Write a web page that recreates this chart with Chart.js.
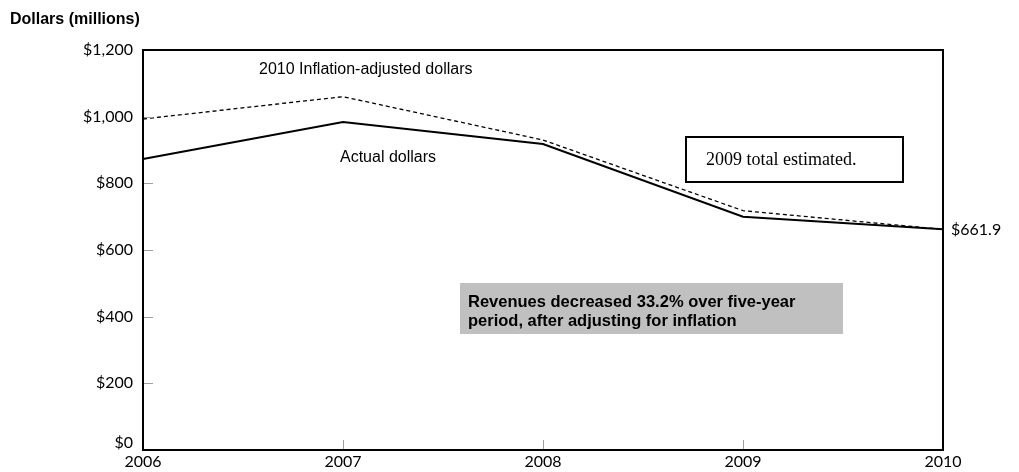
<!DOCTYPE html>
<html>
<head>
<meta charset="utf-8">
<script src="https://cdn.jsdelivr.net/npm/chart.js@4/dist/chart.umd.min.js"></script>
<style>
  html, body { margin: 0; padding: 0; background: #fff; }
  #contenedor { position: relative; width: 1019px; height: 472px; }
</style>
</head>
<body>
<div id="contenedor"><canvas id="grafica"></canvas></div>
<script>
// datos
const anios = ['2006', '2007', '2008', '2009', '2010'];
const dolaresActuales = [873, 984, 918, 700, 661.9];
const dolaresAjustados = [993, 1060, 930, 718, 661.9];
const ticksY = [0, 200, 400, 600, 800, 1000, 1200];

const fuenteNarrow = '"Liberation Sans Narrow", "Arial Narrow", Arial, sans-serif';
const fuenteTicks = 'Lato, "Open Sans", sans-serif';

function formatearDolares(valor) {
    return '$' + valor.toLocaleString('en-US');
}

// marco, marcas interiores y textos
const anotaciones = {
    id: 'anotaciones',
    afterDraw(chart) {
        const ctx = chart.ctx;
        const area = chart.chartArea;
        const x = chart.scales.x;
        const y = chart.scales.y;

        ctx.save();

        // marcas interiores grises
        ctx.strokeStyle = '#a0a0a0';
        ctx.lineWidth = 1;
        ticksY.slice(1, -1).forEach(v => {
            const py = Math.round(y.getPixelForValue(v)) + 0.5;
            ctx.beginPath();
            ctx.moveTo(area.left, py);
            ctx.lineTo(area.left + 10, py);
            ctx.stroke();
        });
        anios.slice(1, -1).forEach((a, i) => {
            const px = Math.round(x.getPixelForValue(i + 1)) + 0.5;
            ctx.beginPath();
            ctx.moveTo(px, area.bottom);
            ctx.lineTo(px, area.bottom - 10);
            ctx.stroke();
        });

        // marco
        ctx.strokeStyle = '#000';
        ctx.lineWidth = 2;
        ctx.strokeRect(area.left, area.top, area.right - area.left, area.bottom - area.top);

        // etiqueta $0 un poco arriba para no chocar con 2006
        ctx.fillStyle = '#000';
        ctx.font = '16px ' + fuenteTicks;
        ctx.textAlign = 'right';
        ctx.textBaseline = 'middle';
        ctx.fillText(formatearDolares(0), area.left - 10, y.getPixelForValue(0) - 7);

        // titulo del eje
        ctx.textAlign = 'left';
        ctx.font = 'bold 16px ' + fuenteNarrow;
        ctx.fillText('Dollars (millions)', 10, 20);

        // etiquetas de las series
        ctx.font = '16px ' + fuenteNarrow;
        ctx.fillText('2010 Inflation-adjusted dollars', 259, 70);
        ctx.fillText('Actual dollars', 340, 158);

        // valor final
        ctx.font = '16px ' + fuenteTicks;
        ctx.fillText('$661.9', area.right + 8, y.getPixelForValue(661.9));

        // nota 2009
        ctx.lineWidth = 2;
        ctx.strokeRect(686, 137, 217, 45);
        ctx.font = '18px "Liberation Serif", "Times New Roman", serif';
        ctx.fillText('2009 total estimated.', 706, 160);

        // recuadro gris
        ctx.fillStyle = '#c0c0c0';
        ctx.fillRect(460, 283, 383, 51);
        ctx.fillStyle = '#000';
        ctx.font = 'bold 16.5px ' + fuenteNarrow;
        ctx.fillText('Revenues decreased 33.2% over five-year', 468, 302);
        ctx.fillText('period, after adjusting for inflation', 468, 321);

        ctx.restore();
    }
};

document.addEventListener('DOMContentLoaded', () => {
    const lienzo = document.getElementById('grafica');

    const configuracion = {
        type: 'line',
        data: {
            labels: anios,
            datasets: [{
                label: 'Actual dollars',
                data: dolaresActuales,
                borderColor: '#000',
                borderWidth: 2,
                pointRadius: 0,
                fill: false,
                tension: 0
            }, {
                label: '2010 Inflation-adjusted dollars',
                data: dolaresAjustados,
                borderColor: '#000',
                borderWidth: 1.3,
                borderDash: [4, 3],
                pointRadius: 0,
                fill: false,
                tension: 0
            }]
        },
        options: {
            responsive: false,
            animation: false,
            devicePixelRatio: 1,
            layout: {
                padding: { left: 0, top: 50, right: 76, bottom: 0 }
            },
            plugins: {
                legend: { display: false },
                tooltip: { enabled: false }
            },
            scales: {
                x: {
                    offset: false,
                    grid: { display: false, drawTicks: false },
                    border: { display: false },
                    ticks: {
                        color: '#000',
                        padding: 2,
                        maxRotation: 0,
                        autoSkip: false,
                        font: { family: fuenteTicks, size: 16 }
                    },
                    afterFit: escala => { escala.height = 22; }
                },
                y: {
                    min: 0,
                    max: 1200,
                    grid: { display: false, drawTicks: false },
                    border: { display: false },
                    afterBuildTicks: escala => {
                        escala.ticks = ticksY.map(v => ({ value: v }));
                    },
                    ticks: {
                        color: '#000',
                        padding: 10,
                        font: { family: fuenteTicks, size: 16 },
                        // el $0 se dibuja aparte, mas arriba
                        callback: valor => valor === 0 ? '' : formatearDolares(valor)
                    },
                    afterFit: escala => { escala.width = 143; }
                }
            }
        },
        plugins: [anotaciones]
    };

    lienzo.width = 1019;
    lienzo.height = 472;
    new Chart(lienzo, configuracion);
});
</script>
</body>
</html>
